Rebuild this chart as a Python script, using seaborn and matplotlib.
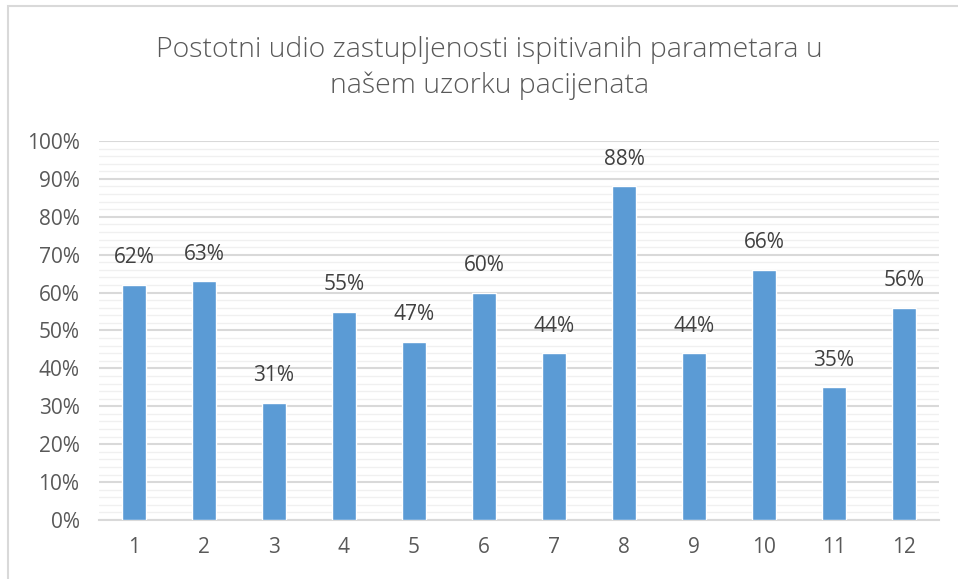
import pandas as pd
import matplotlib.pyplot as plt
import seaborn as sns
from matplotlib.ticker import MultipleLocator, PercentFormatter
from matplotlib.patches import Rectangle

# Values
categories = ['1', '2', '3', '4', '5', '6', '7', '8', '9', '10', '11', '12']
shares = [62, 63, 31, 55, 47, 60, 44, 88, 44, 66, 35, 56]
title = 'Postotni udio zastupljenosti ispitivanih parametara u\nnašem uzorku pacijenata'

df = pd.DataFrame({'Parametar': categories, 'Udio': [v / 100 for v in shares]})

sns.set_style('white')
plt.rcParams['font.family'] = ['Open Sans', 'DejaVu Sans']

fig = plt.figure(figsize=(9.58, 5.79), dpi=100)
ax = fig.add_axes([0.1033, 0.1019, 0.8768, 0.6546])

sns.barplot(data=df, x='Parametar', y='Udio', color='#5b9bd5', width=0.34,
            saturation=1, ax=ax, zorder=3)

ax.set_xlim(-0.5, len(categories) - 0.5)
ax.set_ylim(0, 1.0)
ax.yaxis.set_major_locator(MultipleLocator(0.1))
ax.yaxis.set_minor_locator(MultipleLocator(0.02))
ax.yaxis.set_major_formatter(PercentFormatter(1.0, decimals=0))
ax.grid(axis='y', which='minor', color='#f0f0f0', linewidth=1.0, zorder=0)
ax.grid(axis='y', which='major', color='#d9d9d9', linewidth=1.5, zorder=1)
ax.set_axisbelow(True)

for side in ['top', 'right', 'left']:
    ax.spines[side].set_visible(False)
ax.spines['bottom'].set_color('#d9d9d9')
ax.spines['bottom'].set_linewidth(1.5)

ax.tick_params(axis='both', which='both', length=0, labelsize=15, colors='#595959')
ax.tick_params(axis='x', pad=12)
ax.tick_params(axis='y', pad=14)
ax.set_xlabel('')
ax.set_ylabel('')

ax.bar_label(ax.containers[0], labels=[f'{v}%' for v in shares], padding=12,
             fontsize=15, color='#404040')

fig.text(0.511, 0.8826, title, ha='center', va='center', fontsize=20.5,
         color='#595959', linespacing=1.38, fontweight='light')

# chart area border
fig.patches.append(Rectangle((8 / 958, -0.1), 1.2, 1.1 - 6 / 579,
                             transform=fig.transFigure, fill=False,
                             edgecolor='#d9d9d9', linewidth=1.5))

fig.savefig('out.png', dpi=100)
